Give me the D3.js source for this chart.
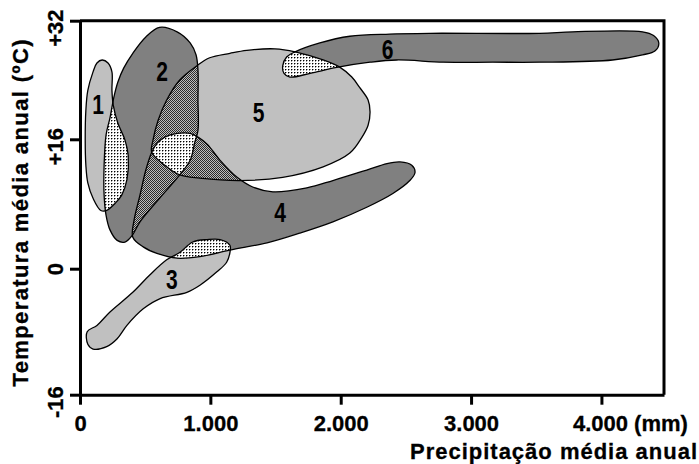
<!DOCTYPE html>
<html>
<head>
<meta charset="utf-8">
<script src="https://cdn.jsdelivr.net/npm/d3@7"></script>
<style>
  body { margin: 0; background: #fff; }
  svg { display: block; }
  .axis-title { font: bold 22px "Liberation Sans", Arial, sans-serif; fill: #000; stroke: #000; stroke-width: 0.3; }
  .region-label { font: bold 27px "Liberation Sans", Arial, sans-serif; fill: #000; }
</style>
</head>
<body>
<div id="chart"></div>
<script>
const width = 699, height = 464;

// axis ticks
const xTicks = [0, 1000, 2000, 3000, 4000];
const xTickLabels = ["0", "1.000", "2.000", "3.000", "4.000 (mm)"];
const yTicks = [-16, 0, 16, 32];
const yTickLabels = ["-16", "0", "+16", "+32"];

// biome outlines: [precipitacao (mm), temperatura (ºC)]
const bioma1 = [[170,26.7],[215,26.3],[245,25.1],[245,22.6],[255,20.6],[290,18.2],[345,15.9],[370,14.0],[360,11.0],[320,9.1],[270,8.1],[205,7.2],[160,7.2],[100,8.7],[60,10.6],[45,12.8],[40,15.9],[45,19.9],[60,22.6],[100,25.1],[130,26.3]];
const bioma2 = [[610,31.1],[745,30.5],[845,29.0],[890,27.4],[905,25.3],[905,21.3],[905,17.2],[880,15.6],[845,13.4],[765,11.6],[610,8.7],[460,5.8],[400,4.1],[345,3.3],[285,3.5],[230,4.8],[200,6.6],[185,9.1],[185,12.8],[200,16.6],[230,18.9],[260,21.7],[290,23.7],[335,25.6],[405,27.6],[505,29.8]];
const bioma3 = [[765,2.0],[865,3.3],[975,3.6],[1075,3.6],[1150,2.9],[1150,2.0],[1125,0.8],[1050,-0.4],[920,-2.1],[820,-3.0],[615,-3.8],[485,-5.1],[360,-7.2],[285,-8.9],[205,-9.9],[100,-10.2],[60,-9.6],[55,-8.0],[130,-7.2],[230,-5.5],[405,-3.0],[535,-0.8],[665,1.1]];
const bioma4 = [[550,14.4],[590,15.5],[650,16.3],[745,16.8],[845,16.8],[905,16.3],[975,15.4],[1075,13.4],[1205,11.3],[1325,10.1],[1480,9.5],[1740,10.0],[1940,10.9],[2200,12.2],[2355,13.0],[2455,13.2],[2545,12.8],[2570,11.9],[2530,10.9],[2400,9.3],[2200,7.6],[1940,5.8],[1685,4.4],[1435,3.2],[1150,2.3],[920,1.5],[745,1.3],[590,1.9],[485,2.7],[405,3.9],[415,6.0],[460,9.1],[505,12.2]];
const bioma5 = [[550,14.4],[560,15.9],[600,18.6],[665,21.3],[765,24.0],[895,25.9],[995,27.0],[1150,27.6],[1280,28.0],[1495,28.2],[1650,27.8],[1865,26.7],[1995,25.7],[2085,24.4],[2145,23.0],[2210,21.3],[2225,19.7],[2210,17.9],[2160,16.2],[2070,14.3],[1865,12.6],[1555,11.3],[1225,10.9],[920,11.2],[765,11.6],[650,12.8]];
const bioma6 = [[1555,25.9],[1585,27.1],[1650,27.8],[1840,29.0],[2070,29.9],[2375,30.2],[2685,30.3],[3525,30.3],[3780,30.5],[4315,30.5],[4400,30.0],[4440,29.0],[4410,27.9],[4315,27.4],[4085,26.7],[3525,26.4],[3165,26.4],[2785,26.4],[2430,26.7],[2225,26.4],[1970,25.7],[1765,24.9],[1610,24.4],[1565,24.9]];

const regionNames = ["1", "2", "3", "4", "5", "6"];
const regionLabelAt = [[138,20.7],[630,25.2],[705,-1.4],[1535,7.0],[1370,19.7],[2360,28.2]];

const regions = [bioma1, bioma2, bioma3, bioma4, bioma5, bioma6];
const regionTone = ["light", "dark", "light", "dark", "light", "dark"];
// overlapping areas (indices into regions) and their hatch
const overlaps = [
    { ids: [0, 1], hatch: "sparse" },
    { ids: [1, 4], hatch: "dense" },
    { ids: [1, 3], hatch: "dense" },
    { ids: [3, 4], hatch: "dense" },
    { ids: [1, 3, 4], hatch: "sparse" },
    { ids: [4, 5], hatch: "sparse" },
    { ids: [2, 3], hatch: "sparse" }
];

const svg = d3.select("#chart")
    .append("svg")
    .attr("width", width)
    .attr("height", height);

const x = d3.scaleLinear()
    .domain([0, 4480])
    .range([80, 664]);

// the original axis is not evenly spaced, so map each tick on its own
const y = d3.scaleLinear()
    .domain([-16, 0, 16, 32])
    .range([394.7, 268.7, 139.3, 20.7]);

const defs = svg.append("defs");

// fine checker, reads as a mid grey
const dense = defs.append("pattern")
    .attr("id", "dense")
    .attr("patternUnits", "userSpaceOnUse")
    .attr("width", 2).attr("height", 2);
dense.append("rect").attr("width", 2).attr("height", 2).attr("fill", "#bdbdbd");
dense.append("rect").attr("width", 1).attr("height", 1).attr("fill", "#2a2a2a");
dense.append("rect").attr("x", 1).attr("y", 1).attr("width", 1).attr("height", 1).attr("fill", "#2a2a2a");

// white with small dark crosses
const sparse = defs.append("pattern")
    .attr("id", "sparse")
    .attr("patternUnits", "userSpaceOnUse")
    .attr("width", 3).attr("height", 3);
sparse.append("rect").attr("width", 3).attr("height", 3).attr("fill", "#fff");
sparse.append("rect").attr("width", 1).attr("height", 1).attr("fill", "#000");
sparse.append("rect").attr("x", 1).attr("width", 1).attr("height", 1).attr("fill", "#9a9a9a");
sparse.append("rect").attr("y", 1).attr("width", 1).attr("height", 1).attr("fill", "#9a9a9a");

const shape = d3.line()
    .x(d => x(d[0]))
    .y(d => y(d[1]))
    .curve(d3.curveCatmullRomClosed.alpha(0.5));

regions.forEach((r, i) => {
    defs.append("clipPath")
        .attr("id", `clip-${i}`)
        .append("path")
        .attr("d", shape(r));
});

const plot = svg.append("g");

// plain fills
plot.selectAll("path.fill")
    .data(regions)
    .join("path")
    .attr("class", "fill")
    .attr("d", shape)
    .attr("fill", (d, i) => regionTone[i] === "light" ? "#c0c0c0" : "#808080");

// hatched intersections
overlaps.forEach(o => {
    let g = plot.append("g");
    o.ids.slice(2).forEach(k => {
        g = g.append("g").attr("clip-path", `url(#clip-${k})`);
    });
    g.append("path")
        .attr("d", shape(regions[o.ids[0]]))
        .attr("clip-path", `url(#clip-${o.ids[1]})`)
        .attr("fill", `url(#${o.hatch})`);
});

// outlines on top
plot.selectAll("path.outline")
    .data(regions)
    .join("path")
    .attr("class", "outline")
    .attr("d", shape)
    .attr("fill", "none")
    .attr("stroke", "#000")
    .attr("stroke-width", 1.3);

// condensed bold digits
plot.selectAll("text.region-label")
    .data(regionNames)
    .join("text")
    .attr("class", "region-label")
    .attr("transform", (d, i) => `translate(${x(regionLabelAt[i][0])}, ${y(regionLabelAt[i][1])}) scale(0.78, 1)`)
    .attr("text-anchor", "middle")
    .attr("dy", "0.36em")
    .text(d => d);

// frame top and right
svg.append("path")
    .attr("d", `M${x.range()[0]},${y(32)}H${x.range()[1]}V${y(-16)}`)
    .attr("fill", "none")
    .attr("stroke", "#000")
    .attr("stroke-width", 3);

// Add axes
const bottomAxis = d3.axisBottom(x)
    .tickValues(xTicks)
    .tickSize(10)
    .tickSizeOuter(0)
    .tickFormat((d, i) => xTickLabels[i]);

const xAxisG = svg.append("g")
    .attr("transform", `translate(0, ${y(-16)})`)
    .call(bottomAxis)
    .attr("font-size", 22)
    .attr("font-weight", "bold")
    .attr("font-family", '"Liberation Sans", Arial, sans-serif');

xAxisG.selectAll("path, line").attr("stroke", "#000").attr("stroke-width", 3);
xAxisG.selectAll("text")
    .attr("fill", "#000")
    .attr("stroke", "#000")
    .attr("stroke-width", 0.3)
    .attr("y", 36)
    .attr("dy", null);
xAxisG.selectAll(".tick text")
    .filter((d, i) => i === xTicks.length - 1)
    .attr("text-anchor", "start")
    .attr("x", -29);

const leftAxis = d3.axisLeft(y)
    .tickValues(yTicks)
    .tickSize(10)
    .tickSizeOuter(0)
    .tickFormat("");

const yAxisG = svg.append("g")
    .attr("transform", `translate(${x(0)}, 0)`)
    .call(leftAxis);

yAxisG.selectAll("path, line").attr("stroke", "#000").attr("stroke-width", 3);
yAxisG.selectAll(".tick text").remove();
yAxisG.selectAll(".tick")
    .append("text")
    .attr("transform", "translate(-17, 0) rotate(-90)")
    .attr("text-anchor", "middle")
    .attr("dx", (d, i) => yTickLabels[i].length > 1 ? -7 : 0)
    .attr("fill", "#000")
    .attr("stroke", "#000")
    .attr("stroke-width", 0.3)
    .attr("font-size", 22)
    .attr("font-weight", "bold")
    .attr("font-family", '"Liberation Sans", Arial, sans-serif')
    .text((d, i) => yTickLabels[i]);

svg.append("text")
    .attr("class", "axis-title")
    .attr("x", 410)
    .attr("y", 459)
    .attr("textLength", 287)
    .attr("lengthAdjust", "spacing")
    .text("Precipitação média anual");

svg.append("text")
    .attr("class", "axis-title")
    .attr("transform", "translate(28, 213) rotate(-90)")
    .attr("text-anchor", "middle")
    .attr("textLength", 347)
    .attr("lengthAdjust", "spacing")
    .text("Temperatura média anual (ºC)");
</script>
</body>
</html>
